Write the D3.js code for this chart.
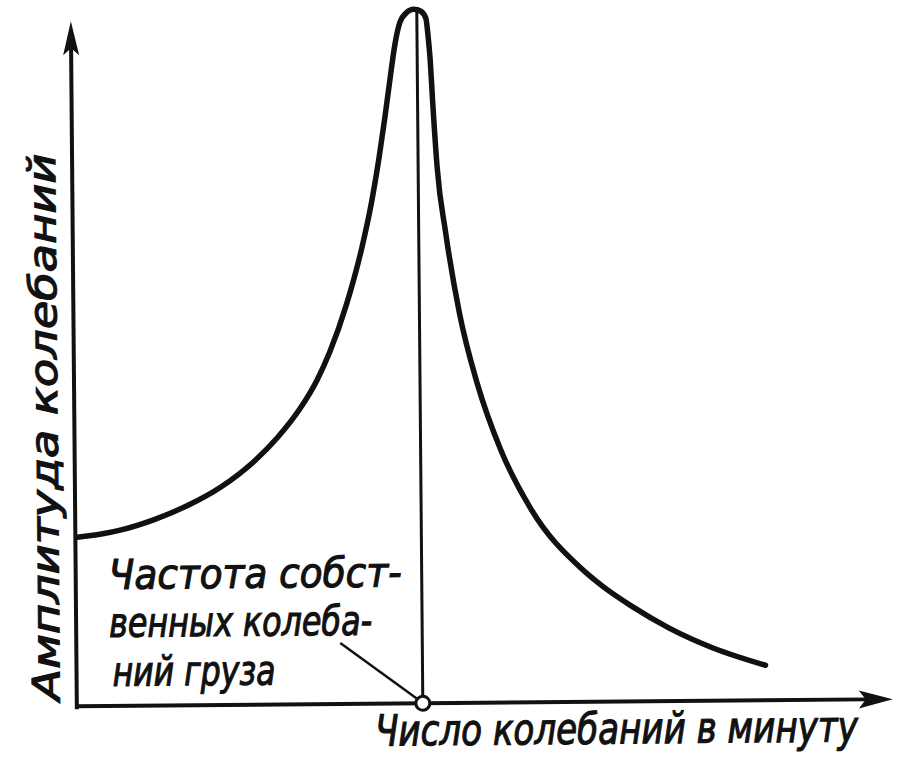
<!DOCTYPE html>
<html><head><meta charset="utf-8">
<script src="https://cdn.jsdelivr.net/npm/d3@7"></script>
<style>
html,body{margin:0;padding:0;background:#fff;}
svg{display:block;}
text{font-family:"DejaVu Sans Condensed","DejaVu Sans",sans-serif;font-style:italic;fill:#111;stroke:#111;stroke-width:1.1px;}
</style></head>
<body>
<script>
// ---- data (abstract units) ----
const freq = [2,26,46,79,113,146,179,203,226,243,256,273,289,299,307,313,319,324,329,336,343,350,355,357,359,361,365,373,386,403,426,456,506,526,556,593,636,689];
const amplitude = [169,172,176,186,200,218,243,267,296,324,352,399,456,501,546,585,627,660,681,691,694,692,685,668,643,603,536,470,390,320,253,193,133,116,95,73,53,35];
const resonanceFreq = [346];
const xLabel = "Число колебаний в минуту";
const yLabel = "Амплитуда колебаний";
const noteLines = ["Частота собст-", "венных колеба-", "ний груза"];

const W = 904, H = 763;
const svg = d3.select("body").append("svg").attr("width", W).attr("height", H);
const g = svg.append("g").attr("transform", "rotate(-0.5,450,380)");

const x = d3.scaleLinear().domain([0, 816]).range([74, 890]);
const y = d3.scaleLinear().domain([0, 685]).range([703, 18]);

// axes
g.append("line").attr("x1", x(0)).attr("x2", x(790)).attr("y1", y(0)).attr("y2", y(0))
  .attr("stroke", "#111").attr("stroke-width", 4);
g.append("line").attr("x1", x(0)).attr("x2", x(0)).attr("y1", y(-3)).attr("y2", y(660))
  .attr("stroke", "#111").attr("stroke-width", 4);
// arrowheads
const ax = x(816), ay = y(0);
g.append("path").attr("d", `M${ax},${ay} L${ax-34},${ay-9} L${ax-27},${ay} L${ax-34},${ay+9} Z`).attr("fill", "#111");
const bx = x(0), by = y(685);
g.append("path").attr("d", `M${bx},${by} L${bx-8},${by+34} L${bx},${by+27} L${bx+8},${by+34} Z`).attr("fill", "#111");

// resonance vertical line
g.append("line").attr("x1", x(resonanceFreq[0])).attr("x2", x(resonanceFreq[0]))
  .attr("y1", y(0)).attr("y2", y(692)).attr("stroke", "#111").attr("stroke-width", 3);

// curve
const line = d3.line().x((d, i) => x(freq[i])).y(d => y(d)).curve(d3.curveMonotoneX);
g.append("path").datum(amplitude).attr("d", line).attr("fill", "none")
  .attr("stroke", "#111").attr("stroke-width", 5.5).attr("stroke-linecap", "round");

// leader line & circle
g.append("line").attr("x1", x(264)).attr("y1", y(61)).attr("x2", x(resonanceFreq[0]) - 5).attr("y2", y(0) - 4)
  .attr("stroke", "#111").attr("stroke-width", 2.5);
g.append("circle").attr("cx", x(resonanceFreq[0])).attr("cy", y(0)).attr("r", 7)
  .attr("fill", "#fff").attr("stroke", "#111").attr("stroke-width", 3);

// text fitted to a target width with a horizontal scale
function fitText(parent, str, px, py, size, width, rot) {
  const outer = parent.append("g").attr("transform", `translate(${px},${py})` + (rot ? ` rotate(${rot})` : ""));
  const inner = outer.append("g");
  const t = inner.append("text").attr("x", 0).attr("y", 0).attr("font-size", size).text(str);
  const len = t.node().getComputedTextLength();
  inner.attr("transform", `scale(${width / len},1)`);
  return t;
}

const noteX = [107, 107, 110], noteY = [586, 634, 683], noteLen = [293, 263, 163];
noteLines.forEach((t, i) => fitText(g, t, noteX[i], noteY[i], 41, noteLen[i], 0));

fitText(g, xLabel, 372, 745, 43, 483, 0);
fitText(g, yLabel, 57, 697, 38, 547, -90);
</script>
</body></html>
